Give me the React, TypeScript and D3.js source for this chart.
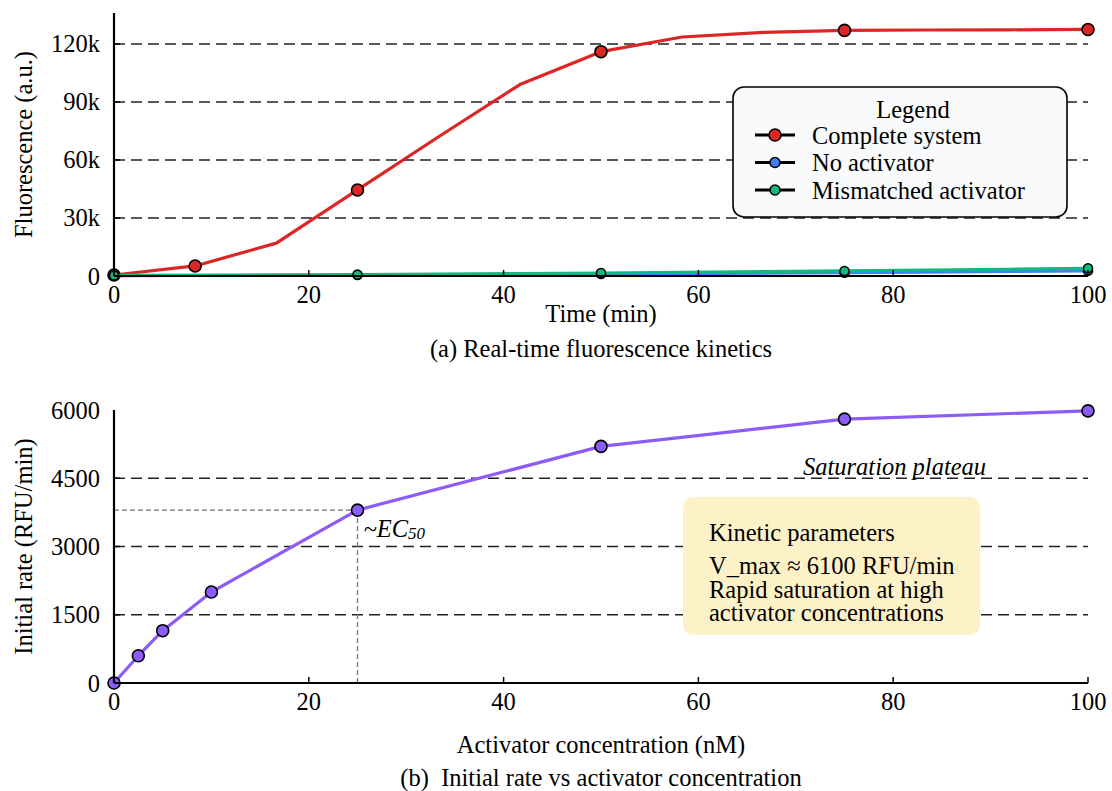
import React from "react";
import * as d3 from "d3";

// ---------- Data ----------
const timePoints = [0, 8.33, 16.67, 25, 33.33, 41.67, 50, 58.33, 66.67, 75, 83.33, 91.67, 100];
const completeSystem = [500, 5200, 17000, 44500, 72000, 99000, 116000, 123600, 126000, 127000, 127200, 127300, 127500];
const noActivator = [200, 300, 400, 500, 650, 800, 1000, 1200, 1450, 1700, 2000, 2350, 2700];
const mismatchedActivator = [300, 400, 550, 700, 950, 1250, 1550, 1900, 2250, 2600, 3050, 3500, 4000];
const completeMarkerIdx = [0, 1, 3, 6, 9, 12];
const controlMarkerIdx = [0, 3, 6, 9, 12];

const concentrations = [0, 2.5, 5, 10, 25, 50, 75, 100];
const initialRates = [0, 600, 1150, 2000, 3800, 5200, 5800, 5980];

const xTicks = [0, 20, 40, 60, 80, 100];
const topYTicks = [0, 30000, 60000, 90000, 120000];
const topYTickLabels = ["0", "30k", "60k", "90k", "120k"];
const bottomYTicks = [0, 1500, 3000, 4500, 6000];

const seriesNames = ["Complete system", "No activator", "Mismatched activator"];
const annotationLines = [
  "Kinetic parameters",
  "V_max \u2248 6100 RFU/min",
  "Rapid saturation at high",
  "activator concentrations",
];

// ---------- Styles ----------
const FONT = "'Liberation Serif', 'Times New Roman', serif";
const FS = 24.5;
const RED = "#dc2626";
const BLUE = "#3b82f6";
const GREEN = "#10b981";
const PURPLE = "#8b5cf6";

export default function App() {
  const L = 114, R = 1088;
  const x = d3.scaleLinear().domain([0, 100]).range([L, R]);
  const yTop = d3.scaleLinear().domain([0, 136000]).range([276, 13]);
  const yBot = d3.scaleLinear().domain([0, 6000]).range([683, 410]);

  const lineTop = (vals: number[]) =>
    d3.line<number>().x((_, i) => x(timePoints[i])).y((v) => yTop(v))(vals) || "";
  const lineBot =
    d3.line<number>().x((_, i) => x(concentrations[i])).y((v) => yBot(v))(initialRates) || "";

  const gridDash = "11,6";

  const series = [
    { vals: completeSystem, color: RED, idx: completeMarkerIdx, r: 6 },
    { vals: noActivator, color: BLUE, idx: controlMarkerIdx, r: 4.5 },
    { vals: mismatchedActivator, color: GREEN, idx: controlMarkerIdx, r: 4.5 },
  ];

  const ecX = x(concentrations[4]);
  const ecY = yBot(initialRates[4]);

  return (
    <svg
      width={1112}
      height={791}
      style={{ position: "absolute", left: 0, top: 0, background: "#fff" }}
      fontFamily={FONT}
      fontSize={FS}
    >
      {/* ===== Top panel ===== */}
      {topYTicks.slice(1).map((t) => (
        <line key={"tg" + t} x1={L} x2={R} y1={yTop(t)} y2={yTop(t)} stroke="#222" strokeWidth={1.4} strokeDasharray={gridDash} />
      ))}
      {series.map((s, k) => (
        <g key={"s" + k}>
          <path d={lineTop(s.vals)} fill="none" stroke={s.color} strokeWidth={3.2} strokeLinejoin="round" />
          {s.idx.map((i) => (
            <circle key={i} cx={x(timePoints[i])} cy={yTop(s.vals[i])} r={s.r} fill={s.color} stroke="#000" strokeWidth={1.6} />
          ))}
        </g>
      ))}
      {/* axes */}
      <line x1={L} x2={L} y1={13} y2={276} stroke="#000" strokeWidth={2.2} />
      <line x1={L} x2={R} y1={276} y2={276} stroke="#000" strokeWidth={2.2} />
      {topYTicks.map((t, i) => (
        <g key={"ty" + t}>
          <line x1={L} x2={L + 6} y1={yTop(t)} y2={yTop(t)} stroke="#000" strokeWidth={1.5} />
          <text x={L - 14} y={yTop(t)} textAnchor="end" dominantBaseline="central">{topYTickLabels[i]}</text>
        </g>
      ))}
      {xTicks.map((t) => (
        <g key={"tx" + t}>
          <line x1={x(t)} x2={x(t)} y1={276} y2={270} stroke="#000" strokeWidth={1.5} />
          <text x={x(t)} y={294} textAnchor="middle" dominantBaseline="central">{t}</text>
        </g>
      ))}
      <text x={(L + R) / 2} y={313} textAnchor="middle" dominantBaseline="central">Time (min)</text>
      <text x={23} y={144.5} textAnchor="middle" dominantBaseline="central" transform="rotate(-90 23 144.5)">Fluorescence (a.u.)</text>
      <text x={(L + R) / 2} y={348} textAnchor="middle" dominantBaseline="central">(a) Real-time fluorescence kinetics</text>

      {/* legend */}
      <rect x={733} y={87} width={334} height={130} rx={11} fill="#f9fafb" stroke="#000" strokeWidth={1.6} />
      <text x={913} y={109} textAnchor="middle" dominantBaseline="central">Legend</text>
      {seriesNames.map((n, i) => {
        const cy = 135 + i * 27.5;
        const col = [RED, BLUE, GREEN][i];
        return (
          <g key={"lg" + i}>
            <line x1={755} x2={795} y1={cy} y2={cy} stroke="#000" strokeWidth={3.2} />
            <circle cx={775} cy={cy} r={i === 0 ? 6 : 5} fill={col} stroke="#000" strokeWidth={1.5} />
            <text x={812} y={cy} dominantBaseline="central">{n}</text>
          </g>
        );
      })}

      {/* ===== Bottom panel ===== */}
      {bottomYTicks.slice(1, 4).map((t) => (
        <line key={"bg" + t} x1={L} x2={R} y1={yBot(t)} y2={yBot(t)} stroke="#222" strokeWidth={1.4} strokeDasharray={gridDash} />
      ))}
      {/* EC50 guides */}
      <line x1={L} x2={ecX} y1={ecY} y2={ecY} stroke="#777" strokeWidth={1.3} strokeDasharray="5,3" />
      <line x1={ecX} x2={ecX} y1={ecY} y2={683} stroke="#777" strokeWidth={1.3} strokeDasharray="5,3" />

      {/* annotation box */}
      <rect x={683} y={497} width={297} height={138} rx={10} fill="#fdf1c8" />
      {annotationLines.map((t, i) => (
        <text key={"an" + i} x={709} y={[532, 565, 589, 612][i]} dominantBaseline="central">{t}</text>
      ))}

      <path d={lineBot} fill="none" stroke={PURPLE} strokeWidth={3.2} strokeLinejoin="round" />
      {initialRates.map((v, i) => (
        <circle key={"bp" + i} cx={x(concentrations[i])} cy={yBot(v)} r={6} fill={PURPLE} stroke="#000" strokeWidth={1.6} />
      ))}

      <line x1={L} x2={L} y1={410} y2={683} stroke="#000" strokeWidth={2.2} />
      <line x1={L} x2={R} y1={683} y2={683} stroke="#000" strokeWidth={2.2} />
      {bottomYTicks.map((t) => (
        <g key={"by" + t}>
          {t < 6000 && <line x1={L} x2={L + 6} y1={yBot(t)} y2={yBot(t)} stroke="#000" strokeWidth={1.5} />}
          <text x={L - 14} y={yBot(t)} textAnchor="end" dominantBaseline="central">{t}</text>
        </g>
      ))}
      {xTicks.map((t) => (
        <g key={"bx" + t}>
          <line x1={x(t)} x2={x(t)} y1={683} y2={677} stroke="#000" strokeWidth={1.5} />
          <text x={x(t)} y={701} textAnchor="middle" dominantBaseline="central">{t}</text>
        </g>
      ))}
      <text x={ecX + 6} y={528} dominantBaseline="central" fontStyle="italic">
        ~EC<tspan fontSize={17} dy={5}>50</tspan>
      </text>
      <text x={803} y={466} dominantBaseline="central" fontStyle="italic">Saturation plateau</text>

      <text x={(L + R) / 2} y={744} textAnchor="middle" dominantBaseline="central">Activator concentration (nM)</text>
      <text x={23} y={546.5} textAnchor="middle" dominantBaseline="central" transform="rotate(-90 23 546.5)">Initial rate (RFU/min)</text>
      <text x={(L + R) / 2} y={777} textAnchor="middle" dominantBaseline="central" xmlSpace="preserve">(b)  Initial rate vs activator concentration</text>
    </svg>
  );
}
